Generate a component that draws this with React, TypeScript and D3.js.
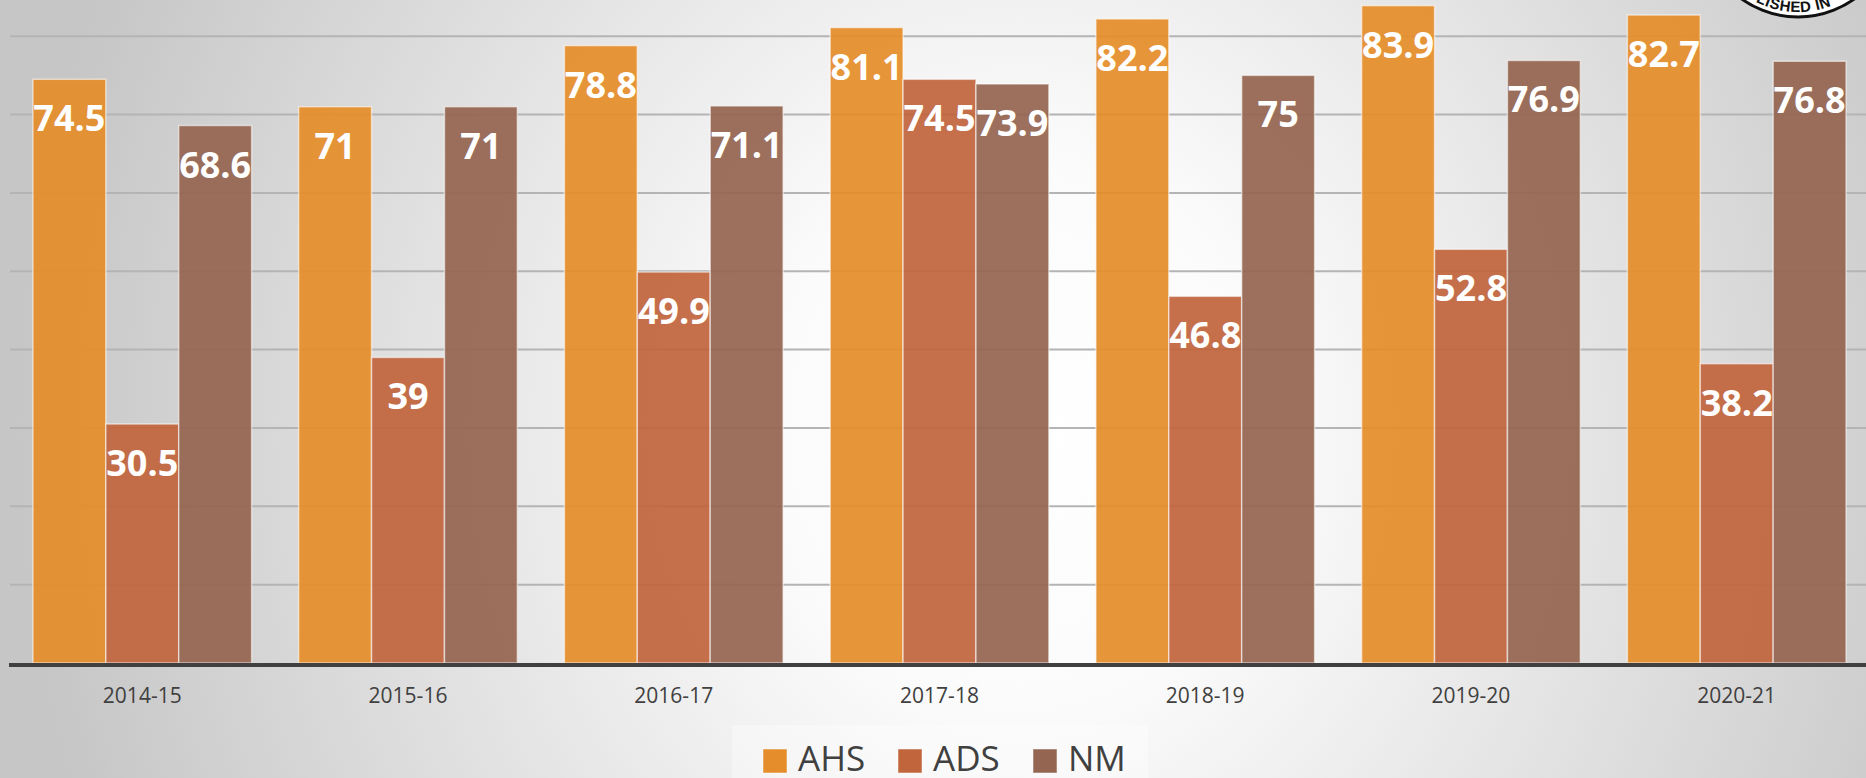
import React from "react";
import * as d3 from "d3";

const categories = ["2014-15", "2015-16", "2016-17", "2017-18", "2018-19", "2019-20", "2020-21"];
const seriesNames = ["AHS", "ADS", "NM"];
const ahs = [74.5, 71, 78.8, 81.1, 82.2, 83.9, 82.7];
const ads = [30.5, 39, 49.9, 74.5, 46.8, 52.8, 38.2];
const nm = [68.6, 71, 71.1, 73.9, 75, 76.9, 76.8];
const gridValues = [10, 20, 30, 40, 50, 60, 70, 80];
const colors = ["#e58d2a", "#c1653d", "#946550"];

const W = 1866;
const H = 778;
const baseY = 663;

export default function App() {
  const seriesValues = [ahs, ads, nm];
  const x = d3.scaleBand<string>().domain(categories).range([9, 1870]).paddingInner(0.177).paddingOuter(0.09);
  const xs = d3.scaleBand<string>().domain(seriesNames).range([0, x.bandwidth()]).padding(0);
  const y = d3.scaleLinear().domain([0, 90]).range([baseY, baseY - 90 * 7.835]);

  const logoCx = 1798;
  const logoCy = -80;
  const rText = 92;
  const arcPath = `M ${logoCx - rText} ${logoCy} A ${rText} ${rText} 0 0 0 ${logoCx + rText} ${logoCy}`;

  return (
    <svg width={W} height={H} style={{ position: "absolute", left: 0, top: 0, display: "block" }}>
      <defs>
        <radialGradient id="bg" gradientUnits="userSpaceOnUse" cx={1020} cy={430} r={1000}
          gradientTransform="translate(1020 430) scale(1 1.1) translate(-1020 -430)">
          <stop offset="0" stopColor="#ffffff" />
          <stop offset="0.25" stopColor="#fbfbfb" />
          <stop offset="1" stopColor="#c6c6c6" />
        </radialGradient>
      </defs>
      <rect x={0} y={0} width={W} height={H} fill="url(#bg)" />

      {gridValues.map((v) => (
        <line key={v} x1={10} x2={W} y1={y(v)} y2={y(v)} stroke="#b4b4b4" strokeWidth={2} />
      ))}

      {categories.map((c, i) => (
        <g key={c} transform={`translate(${x(c)},0)`}>
          {seriesNames.map((s, j) => {
            const v = seriesValues[j][i];
            return (
              <rect key={s} x={xs(s)} y={y(v)} width={xs.bandwidth()} height={baseY - y(v)}
                fill={colors[j]} fillOpacity={0.93} stroke="#ffffff" strokeOpacity={0.55} strokeWidth={1.5} />
            );
          })}
        </g>
      ))}

      {categories.map((c, i) => (
        <g key={c + "l"} transform={`translate(${x(c)},0)`}>
          {seriesNames.map((s, j) => {
            const v = seriesValues[j][i];
            return (
              <text key={s} x={(xs(s) as number) + xs.bandwidth() / 2} y={y(v) + 52} textAnchor="middle"
                fontFamily="'Open Sans', sans-serif" fontWeight={700} fontSize={36} fill="#ffffff">
                {String(v)}
              </text>
            );
          })}
        </g>
      ))}

      <line x1={9} x2={W} y1={baseY + 2} y2={baseY + 2} stroke="#404040" strokeWidth={4} />

      {categories.map((c) => (
        <text key={c + "t"} x={(x(c) as number) + x.bandwidth() / 2} y={703} textAnchor="middle"
          fontFamily="'Open Sans', sans-serif" fontSize={21} fill="#404040">
          {c}
        </text>
      ))}

      <rect x={732} y={725} width={416} height={60} fill="#ffffff" fillOpacity={0.35} />
      {seriesNames.map((s, j) => (
        <g key={s + "lg"} transform={`translate(${763 + j * 135},0)`}>
          <rect x={0} y={749} width={24} height={24} fill={colors[j]} stroke="#ffffff" strokeOpacity={0.5} strokeWidth={1} />
          <text x={35} y={771} fontFamily="'Open Sans', sans-serif" fontSize={35} fill="#404040">{s}</text>
        </g>
      ))}

      <g>
        <circle cx={logoCx} cy={logoCy} r={97} fill="#ffffff" stroke="#111111" strokeWidth={3} />
        <path id="sealArc" d={arcPath} fill="none" />
        <text fontFamily="'Liberation Sans', Arial, sans-serif" fontWeight={700} fontSize={15} fill="#111111" letterSpacing={0.5}>
          <textPath href="#sealArc" startOffset="62%" textAnchor="end">ESTABLISHED IN</textPath>
        </text>
      </g>
    </svg>
  );
}
